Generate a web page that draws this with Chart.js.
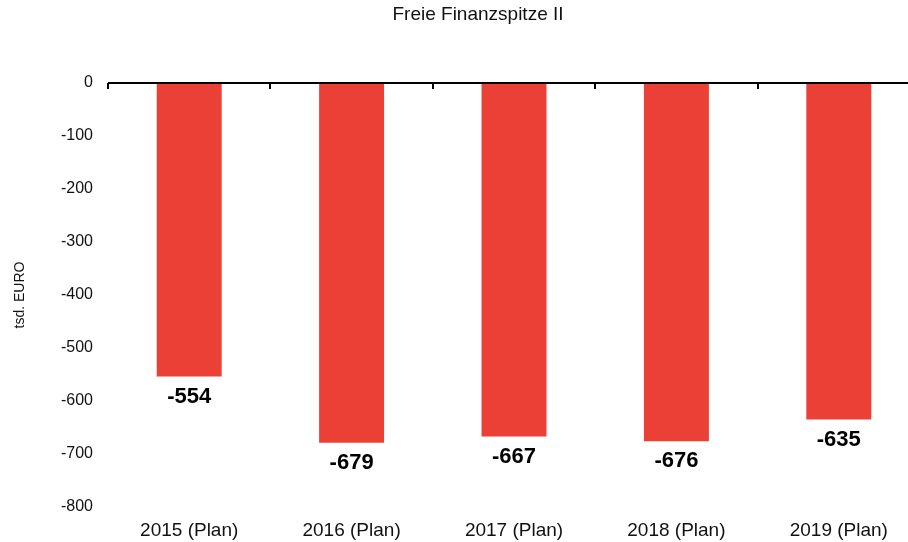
<!DOCTYPE html>
<html>
<head>
<meta charset="utf-8">
<script src="https://cdn.jsdelivr.net/npm/chart.js@4/dist/chart.umd.min.js"></script>
<style>
  html, body { margin:0; padding:0; background:#fff; overflow:hidden; }
  #wrap { width:930px; height:542px; }
</style>
</head>
<body>
<div id="wrap"><canvas id="c" width="930" height="542"></canvas></div>
<script>
const labels = ['2015 (Plan)','2016 (Plan)','2017 (Plan)','2018 (Plan)','2019 (Plan)'];
const values = [-554, -679, -667, -676, -635];
const yTicks = [0,-100,-200,-300,-400,-500,-600,-700,-800];

const FONT = '"Liberation Sans", Arial, sans-serif';

// Nulllinie mit Strichen zwischen den Kategorien + Werte unter den Balken
const zeroAxis = {
  id:'zeroAxis',
  afterDatasetsDraw(chart) {
    const { ctx, scales:{ x, y } } = chart;
    const y0 = y.getPixelForValue(0);
    ctx.save();
    ctx.strokeStyle = '#000';
    ctx.lineWidth = 2;
    ctx.beginPath();
    ctx.moveTo(x.getPixelForValue(-0.5), y0);
    ctx.lineTo(x.getPixelForValue(labels.length - 0.5) + 2, y0);
    ctx.stroke();
    for (let i = 0; i <= labels.length; i++) {
      const px = Math.round(x.getPixelForValue(i - 0.5));
      ctx.beginPath();
      ctx.moveTo(px, y0);
      ctx.lineTo(px, y0 + 6);
      ctx.stroke();
    }
    const meta = chart.getDatasetMeta(0);
    ctx.fillStyle = '#000';
    ctx.font = 'bold 22px ' + FONT;
    ctx.textAlign = 'center';
    ctx.textBaseline = 'middle';
    meta.data.forEach((bar, i) => {
      ctx.fillText(String(values[i]), bar.x, bar.y + 20);
    });
    ctx.restore();
  }
};

new Chart(document.getElementById('c'), {
  type:'bar',
  data:{
    labels,
    datasets:[{ data:values, backgroundColor:'#EA4035', barPercentage:0.4, categoryPercentage:1 }]
  },
  options:{
    responsive:false, animation:false,
    layout:{ padding:{ top:0, left:36, right:10, bottom:0 } },
    plugins:{
      legend:{ display:false },
      tooltip:{ enabled:false },
      title:{ display:true, text:'Freie Finanzspitze II', color:'#111',
        font:{ family:FONT, size:19, weight:'normal' }, padding:{ top:3.5, bottom:56.7 } }
    },
    scales:{
      x:{
        afterFit: s => { s.height = 35; },
        grid:{ display:false, drawTicks:false }, border:{ display:false },
        ticks:{ color:'#111', padding:12, font:{ family:FONT, size:19 } }
      },
      y:{
        min:-800, max:0,
        afterBuildTicks: s => { s.ticks = yTicks.map(v => ({ value:v })); },
        afterFit: s => { s.width = 72; },
        grid:{ display:false, drawTicks:false }, border:{ display:false },
        ticks:{ color:'#111', padding:15, font:{ family:FONT, size:16 } },
        title:{ display:true, text:'tsd. EURO', color:'#111', padding:{ top:-24.4, bottom:0 },
          font:{ family:FONT, size:14 } }
      }
    }
  },
  plugins:[zeroAxis]
});
</script>
</body>
</html>
